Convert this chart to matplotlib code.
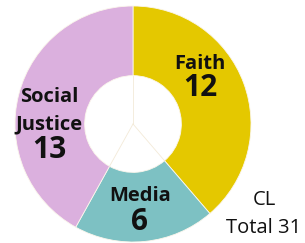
import matplotlib
matplotlib.use("Agg")
import matplotlib.pyplot as plt
import numpy as np

categories = ["Faith", "Media", "Social\nJustice"]
values = [12, 6, 13]
colors = ["#E4C800", "#7DC1C3", "#DBB0DE"]
total_lines = ["CL", "Total 31"]

W, H = 305, 243
fig = plt.figure(figsize=(W / 100, H / 100), dpi=100)
cx, cy, r = 133, 124, 118
ax = fig.add_axes([(cx - r) / W, (H - cy - r) / H, 2 * r / W, 2 * r / H])
ax.pie(values, colors=colors, startangle=90, counterclock=False, radius=1.0,
       wedgeprops=dict(width=0.59, edgecolor="#FBF6EC", linewidth=0.6))
# faint separators continuing into the hole
cum = np.cumsum([0] + values)
for c in cum[:-1]:
    ang = np.deg2rad(90 - 360 * c / sum(values))
    ax.plot([0, 0.41 * np.cos(ang)], [0, 0.41 * np.sin(ang)],
            color="#F3EAD8", lw=0.6, zorder=5)
ax.set_xlim(-1, 1)
ax.set_ylim(-1, 1)
ax.set_aspect("equal")
ax.axis("off")

def px(x, y):
    return ((x - cx) / r, (cy - y) / r)

font = "Open Sans"
label_pos = [(200, [64], 88), (140, [196], 222), (49, [97, 124], 150)]
for name, val, (x, yns, yv) in zip(categories, values, label_pos):
    for line, yn in zip(name.split("\n"), yns):
        ax.text(*px(x, yn), line, ha="center", va="center", fontsize=14.5,
                fontweight="bold", family=font, color="#111111")
    ax.text(*px(x, yv), str(val), ha="center", va="center", fontsize=21.5,
            fontweight="bold", family=font, color="#111111")

for line, y in zip(total_lines, [200, 228]):
    fig.text(264 / W, 1 - y / H, line, ha="center", va="center",
             fontsize=14.5, family=font, color="#111111")

fig.savefig("out.png", dpi=100)
